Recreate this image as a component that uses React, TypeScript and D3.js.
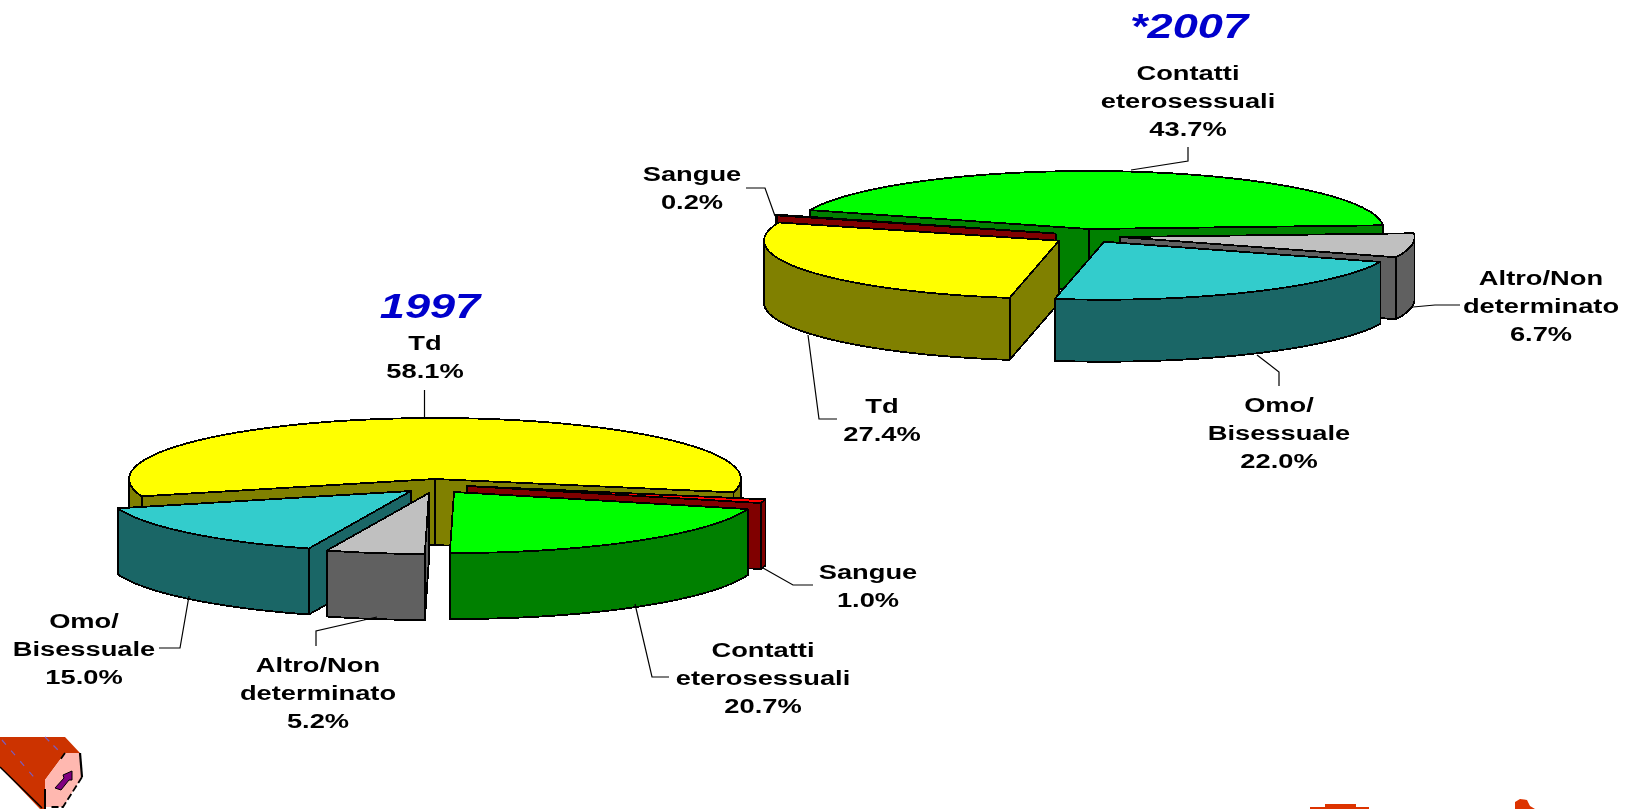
import * as d3 from 'd3'

// valori
const categories = ['Td', 'Sangue', 'Contatti eterosessuali', 'Altro/Non determinato', 'Omo/Bisessuale']
const values1997 = [58.1, 1.0, 20.7, 5.2, 15.0]
const categories2007 = ['Contatti eterosessuali', 'Altro/Non determinato', 'Omo/Bisessuale', 'Td', 'Sangue']
const values2007 = [43.7, 6.7, 22.0, 27.4, 0.2]

const topColors: Record<string, string> = {
  'Td': '#ffff00',
  'Sangue': '#ff0000',
  'Contatti eterosessuali': '#00ff00',
  'Altro/Non determinato': '#c0c0c0',
  'Omo/Bisessuale': '#33cccc',
}
const sideColors: Record<string, string> = {
  'Td': '#808000',
  'Sangue': '#800000',
  'Contatti eterosessuali': '#008000',
  'Altro/Non determinato': '#606060',
  'Omo/Bisessuale': '#1a6666',
}

const labelLines: Record<string, string[]> = {
  'Td': ['Td'],
  'Sangue': ['Sangue'],
  'Contatti eterosessuali': ['Contatti', 'eterosessuali'],
  'Altro/Non determinato': ['Altro/Non', 'determinato'],
  'Omo/Bisessuale': ['Omo/', 'Bisessuale'],
}

type PieConf = {
  title: string
  titleX: number
  titleY: number
  cats: string[]
  vals: number[]
  cx: number
  cy: number
  rx: number
  ry: number
  depth: number
  start: number
  drawOrder: string[]
  explode: Record<string, [number, number]>
  labels: Record<string, { x: number; y: number }>
  leaders: Record<string, [number, number][]>
}

const pie1997: PieConf = {
  title: '1997',
  titleX: 430,
  titleY: 318,
  cats: categories,
  vals: values1997,
  cx: 435,
  cy: 479,
  rx: 306,
  ry: 61,
  depth: 66,
  start: 253.5,
  drawOrder: ['Td', 'Sangue', 'Contatti eterosessuali', 'Omo/Bisessuale', 'Altro/Non determinato'],
  explode: {
    'Td': [0, 0],
    'Sangue': [32, 7],
    'Contatti eterosessuali': [19, 13],
    'Altro/Non determinato': [-6, 14],
    'Omo/Bisessuale': [-24, 12],
  },
  labels: {
    'Td': { x: 425, y: 350 },
    'Sangue': { x: 868, y: 579 },
    'Contatti eterosessuali': { x: 763, y: 657 },
    'Altro/Non determinato': { x: 318, y: 672 },
    'Omo/Bisessuale': { x: 84, y: 628 },
  },
  leaders: {
    'Td': [[424.5, 390], [424.5, 418]],
    'Sangue': [[763, 568], [793, 585], [813, 585]],
    'Contatti eterosessuali': [[635, 604], [652, 677], [669, 677]],
    'Altro/Non determinato': [[377, 617], [316, 631], [316, 646]],
    'Omo/Bisessuale': [[189, 596], [180, 648], [159, 648]],
  },
}

const pie2007: PieConf = {
  title: '*2007',
  titleX: 1189,
  titleY: 38,
  cats: categories2007,
  vals: values2007,
  cx: 1088.6,
  cy: 229,
  rx: 295,
  ry: 58,
  depth: 62,
  start: 289,
  drawOrder: ['Contatti eterosessuali', 'Sangue', 'Td', 'Altro/Non determinato', 'Omo/Bisessuale'],
  explode: {
    'Contatti eterosessuali': [0, 0],
    'Altro/Non determinato': [31, 8],
    'Omo/Bisessuale': [15.5, 12.7],
    'Td': [-29.6, 11.7],
    'Sangue': [-33, 4.5],
  },
  labels: {
    'Contatti eterosessuali': { x: 1188, y: 80 },
    'Altro/Non determinato': { x: 1541, y: 285 },
    'Omo/Bisessuale': { x: 1279, y: 412 },
    'Td': { x: 882, y: 413 },
    'Sangue': { x: 692, y: 181 },
  },
  leaders: {
    'Contatti eterosessuali': [[1188, 147], [1188, 161], [1131, 170]],
    'Altro/Non determinato': [[1413, 307], [1435, 305], [1460, 305]],
    'Omo/Bisessuale': [[1257, 355], [1279, 372], [1279, 386]],
    'Td': [[808, 335], [819, 419], [837, 419]],
    'Sangue': [[746, 188], [765, 188], [775, 216]],
  },
}

const TEXT_STRETCH = 1.3
const lineOf = d3.line<[number, number]>()

function Leader({ pts }: { pts: [number, number][] }) {
  return <path d={lineOf(pts) || ''} fill="none" stroke="#000" strokeWidth={1.2} />
}

function Slice3D({ conf, cat, a0, a1, value }: { conf: PieConf; cat: string; a0: number; a1: number; value: number }) {
  const { rx, ry, depth } = conf
  const [ex, ey] = conf.explode[cat]
  const ox = conf.cx + ex
  const oy = conf.cy + ey
  // proiezione: angolo in senso orario dalle ore 12
  const pt = (a: number, drop = 0): [number, number] => [ox + rx * Math.sin(a), oy - ry * Math.cos(a) + drop]

  const rim = d3.range(0, 61).map(i => a0 + ((a1 - a0) * i) / 60)
  const top: [number, number][] = [[ox, oy], ...rim.map(a => pt(a))]

  // pareti piane visibili solo se guardano verso il basso dello schermo
  // (le fette sottilissime mostrano entrambe le pareti, come nell'originale)
  const thin = a1 - a0 < 0.1
  const faces: [number, number][][] = []
  const faceFor = (a: number) => {
    const p = pt(a)
    faces.push([[ox, oy], p, [p[0], p[1] + depth], [ox, oy + depth]])
  }
  if (thin || Math.sin(a0) < 0) faceFor(a0)
  if (thin || Math.sin(a1) > 0) faceFor(a1)

  // parete curva: solo la parte anteriore (90..270 gradi)
  const walls: [number, number][][] = []
  for (const k of [0, 1, 2]) {
    const lo = Math.max(a0, Math.PI / 2 + k * 2 * Math.PI)
    const hi = Math.min(a1, (3 * Math.PI) / 2 + k * 2 * Math.PI)
    if (hi > lo) {
      const arc = d3.range(0, 61).map(i => lo + ((hi - lo) * i) / 60)
      walls.push([...arc.map(a => pt(a)), ...arc.slice().reverse().map(a => pt(a, depth))])
    }
  }

  return (
    <g stroke="#000" strokeWidth={1.8} strokeLinejoin="round" shapeRendering="crispEdges" data-value={value}>
      {faces.map((f, i) => (
        <path key={'f' + i} d={(lineOf(f) || '') + 'Z'} fill={sideColors[cat]} />
      ))}
      {walls.map((w, i) => (
        <path key={'w' + i} d={(lineOf(w) || '') + 'Z'} fill={sideColors[cat]} />
      ))}
      <path d={(lineOf(top) || '') + 'Z'} fill={topColors[cat]} />
    </g>
  )
}

function Pie3D({ conf }: { conf: PieConf }) {
  const startRad = (conf.start * Math.PI) / 180
  const arcs = d3
    .pie<number>()
    .sort(null)
    .startAngle(startRad)
    .endAngle(startRad + 2 * Math.PI)(conf.vals)
  const byCat: Record<string, { a0: number; a1: number; value: number }> = {}
  conf.cats.forEach((c, i) => {
    byCat[c] = { a0: arcs[i].startAngle, a1: arcs[i].endAngle, value: conf.vals[i] }
  })

  return (
    <g>
      {conf.drawOrder.map(c => (
        <Slice3D key={c} conf={conf} cat={c} a0={byCat[c].a0} a1={byCat[c].a1} value={byCat[c].value} />
      ))}
      {conf.cats.map(c => (
        <Leader key={c} pts={conf.leaders[c]} />
      ))}
      {conf.cats.map(c => {
        const lines = [...labelLines[c], byCat[c].value.toFixed(1) + '%']
        const { x, y } = conf.labels[c]
        return (
          <g key={c} filter="url(#soft)">
            {lines.map((t, i) => (
              <text
                key={i}
                transform={`translate(${x},${y + i * 28}) scale(${TEXT_STRETCH},1)`}
                textAnchor="middle"
                fontFamily="'Liberation Sans', Arial, sans-serif"
                fontWeight="bold"
                fontSize={21}
                fill="#000"
              >
                {t}
              </text>
            ))}
          </g>
        )
      })}
      <text
        transform={`translate(${conf.titleX},${conf.titleY}) scale(1.29,1)`}
        textAnchor="middle"
        fontFamily="'Liberation Sans', Arial, sans-serif"
        fontWeight="bold"
        fontStyle="italic"
        fontSize={35}
        fill="#0000cc"
        filter="url(#soft)"
      >
        {conf.title}
      </text>
    </g>
  )
}

// logo in basso a sinistra e frammenti in basso a destra
function Decorations() {
  return (
    <g>
      <path d="M0,737L65,737L80,753L65,753L45,780L45,809L40,809L0,767Z" fill="#cc3300" />
      <path d="M65,753L80,753L82,777L63,807L45,807L45,780Z" fill="#ffb8b0" />
      <path d="M0,767L42,808" fill="none" stroke="#000" strokeWidth={1.5} />
      <path d="M45,789L45,809" fill="none" stroke="#000" strokeWidth={2} />
      <path d="M80,753L82,777" fill="none" stroke="#000" strokeWidth={2.2} />
      <path d="M82,777L63,807L50,807M65,753L60,760" fill="none" stroke="#000" strokeWidth={1.8} strokeDasharray="7 3" />
      <path d="M55,788L64,778L63,775L72,771L72,780L69,780L61,790Z" fill="#800080" stroke="#000" strokeWidth={1} />
      <path d="M2,740L38,782" fill="none" stroke="#7a5cc0" strokeWidth={1.2} strokeDasharray="6 8" />
      <path d="M45,737L60,752" fill="none" stroke="#7a5cc0" strokeWidth={1.2} strokeDasharray="6 6" />
      <path d="M1310,809L1310,807L1325,807L1325,804L1356,804L1356,807L1369,807L1369,809Z" fill="#dd3300" />
      <path d="M1515,809L1515,802L1520,799L1527,800L1530,806L1535,809Z" fill="#dd3300" />
    </g>
  )
}

export default function App() {
  return (
    <>
      <style>{'body{margin:0;background:#fff}'}</style>
      <svg width={1635} height={809} style={{ display: 'block' }}>
        <defs>
          <filter id="soft" x="-10%" y="-10%" width="120%" height="120%">
            <feGaussianBlur stdDeviation="0.35" />
          </filter>
        </defs>
        <Pie3D conf={pie2007} />
        <Pie3D conf={pie1997} />
        <Decorations />
      </svg>
    </>
  )
}
